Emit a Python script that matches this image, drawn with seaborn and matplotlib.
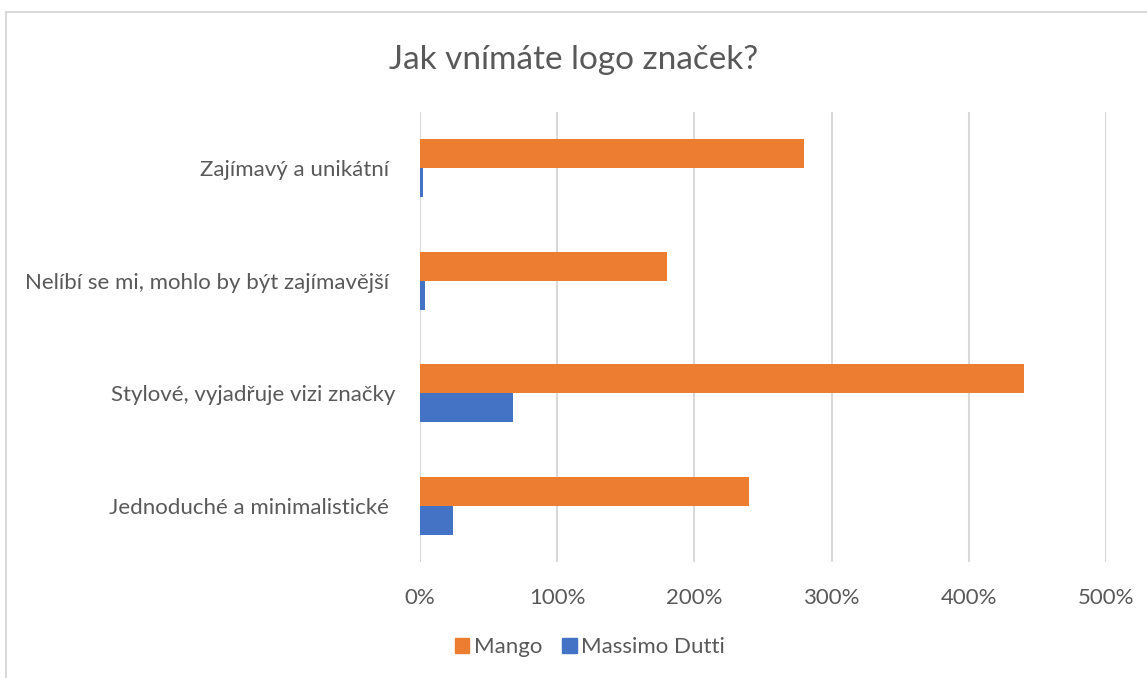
import numpy as np
import pandas as pd
import matplotlib.pyplot as plt
import matplotlib.patches as mpatches
from matplotlib.ticker import PercentFormatter, MultipleLocator
import seaborn as sns

# Data
categories = ['Zajímavý a unikátní ', 'Nelíbí se mi, mohlo by být zajímavější ',
              'Stylové, vyjadřuje vizi značky', 'Jednoduché a minimalistické ']
mango = [280, 180, 440, 240]
massimo_dutti = [2, 4, 68, 24]
series = ['Mango', 'Massimo Dutti']
colors = ['#ED7D31', '#4472C4']

df = pd.DataFrame({
    'kategorie': categories * 2,
    'hodnota': mango + massimo_dutti,
    'znacka': [series[0]] * 4 + [series[1]] * 4,
})

sns.set_style('white')
plt.rcParams['font.family'] = ['Lato', 'DejaVu Sans']
text_color = '#595959'

fig = plt.figure(figsize=(11.47, 6.78), dpi=100)
ax = fig.add_axes([420 / 1147, 1 - 562 / 678, (1106 - 420) / 1147, (562 - 112) / 678])

sns.barplot(data=df, y='kategorie', x='hodnota', hue='znacka', order=categories,
            hue_order=series, palette=colors, width=0.516, orient='h',
            saturation=1, ax=ax, legend=False, edgecolor='none')

ax.set_xlim(0, 500)
ax.set_ylim(3.5, -0.5)
ax.xaxis.set_major_locator(MultipleLocator(100))
ax.xaxis.set_major_formatter(PercentFormatter(decimals=0))
ax.grid(axis='x', color='#d9d9d9', linewidth=1.5)
ax.set_axisbelow(True)
for s in ax.spines.values():
    s.set_visible(False)
ax.set_xlabel('')
ax.set_ylabel('')
ax.tick_params(axis='x', labelsize=16, colors=text_color, length=0, pad=19)
ax.tick_params(axis='y', labelsize=16, colors=text_color, length=0, pad=18)

fig.text(0.5, 1 - 60 / 678, 'Jak vnímáte logo značek?', ha='center', va='center',
         fontsize=24, color=text_color)

handles = [mpatches.Patch(color=c, label=l) for c, l in zip(colors, series)]
fig.legend(handles=handles, loc='center', bbox_to_anchor=(590 / 1147, 1 - 647 / 678),
           ncol=2, frameon=False, fontsize=16, handlelength=0.65, handleheight=0.65,
           handletextpad=0.2, columnspacing=0.9, labelcolor=text_color)

# light chart border
fig.patches.append(mpatches.Rectangle((6 / 1147, -0.05), 1.1, 1 - 12 / 678 + 0.05,
                                      transform=fig.transFigure, fill=False,
                                      edgecolor='#d9d9d9', linewidth=1.5))

fig.savefig('out.png', dpi=100, facecolor='white')
